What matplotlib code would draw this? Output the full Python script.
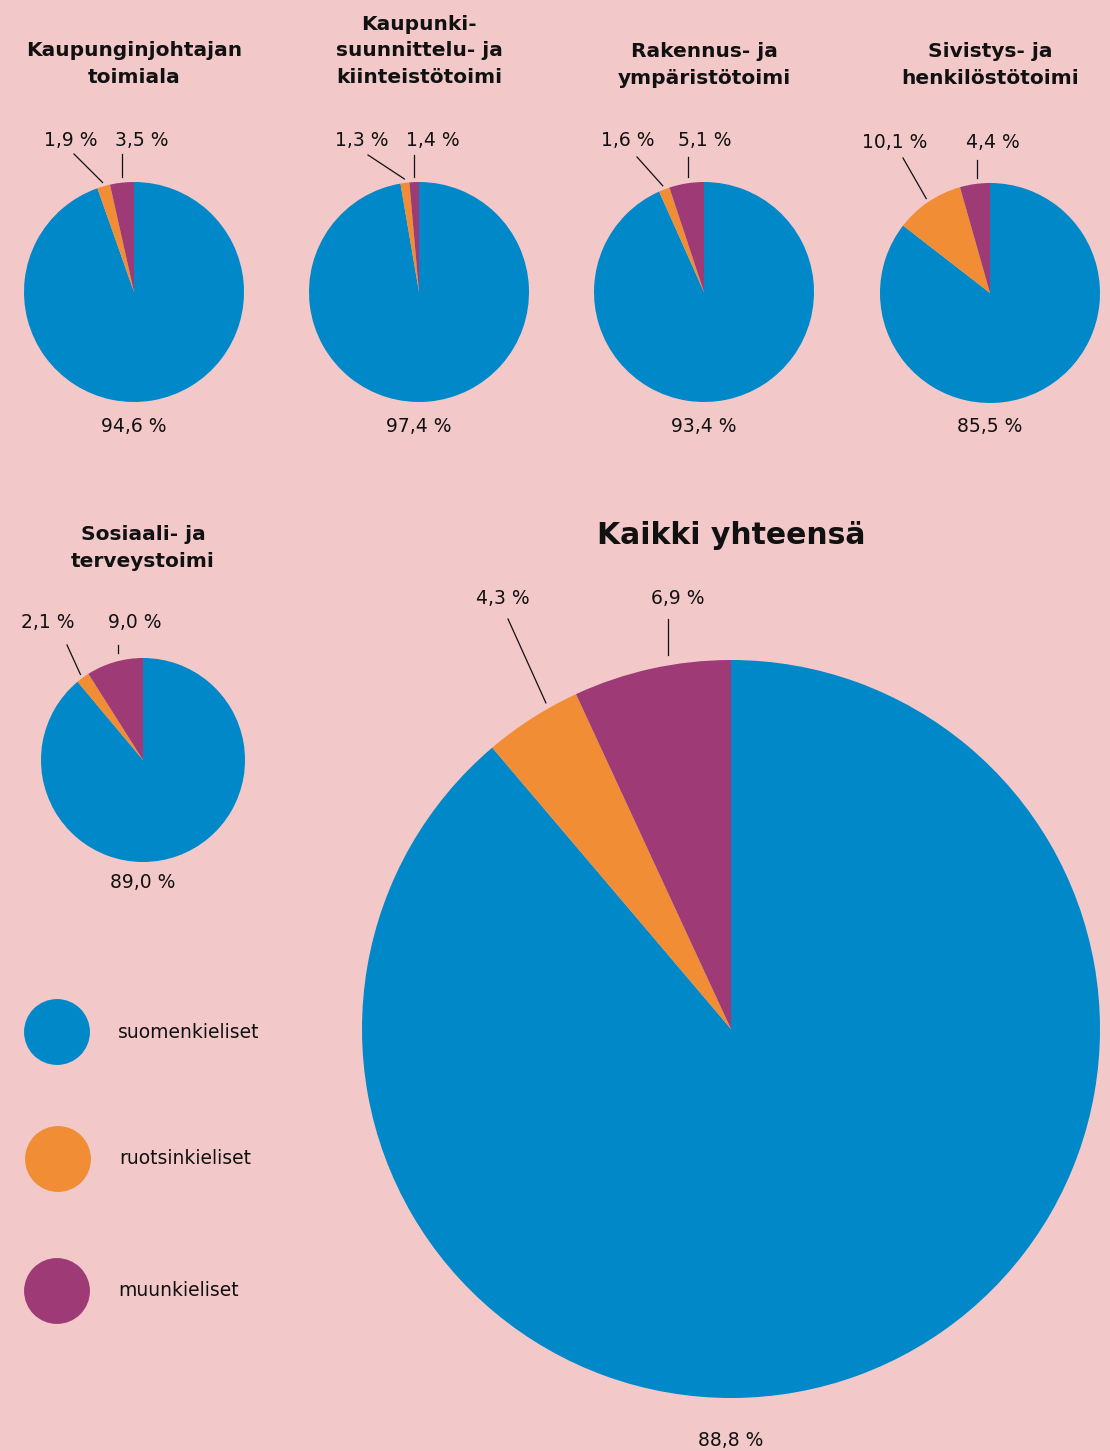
import numpy as np
import matplotlib
matplotlib.use("Agg")
from matplotlib import pyplot as plt

# data
groups = ["Kaupunginjohtajan\ntoimiala",
          "Kaupunki-\nsuunnittelu- ja\nkiinteistötoimi",
          "Rakennus- ja\nympäristötoimi",
          "Sivistys- ja\nhenkilöstötoimi",
          "Sosiaali- ja\nterveystoimi",
          "Kaikki yhteensä"]
suomi = [94.6, 97.4, 93.4, 85.5, 89.0, 88.8]
ruotsi = [1.9, 1.3, 1.6, 10.1, 2.1, 4.3]
muut = [3.5, 1.4, 5.1, 4.4, 9.0, 6.9]
kielet = ["suomenkieliset", "ruotsinkieliset", "muunkieliset"]
colors = ["#0088c8", "#f08d35", "#9e3b77"]
bg = "#f2c8c9"

W, H = 1110, 1451
fig = plt.figure(figsize=(W / 100, H / 100), dpi=100, facecolor=bg)
ax = fig.add_axes([0, 0, 1, 1])
ax.set_facecolor(bg)

# layout (pixel coords, y from top)
centers = [(134, 292), (419, 292), (704, 292), (990, 293), (143, 760), (731, 1029)]
radii = [110, 110, 110, 110, 102, 369]
title_y = [64, 51, 65, 65, 548, 536]
pct_y = [426, 426, 426, 427, 883, 1440]
lab_r = [(71, 141), (362, 141), (628, 141), (895, 143), (48, 623), (503, 598)]
lab_m = [(142, 141), (433, 141), (705, 141), (993, 143), (135, 623), (678, 598)]
end_r = [(74, 154), (368, 155), (637, 157), (903, 158), (67, 645), (508, 619)]
end_m = [(122, 154), (414, 155), (688, 157), (977, 160), (118, 645), (668, 619)]

def Y(y):
    return H - y

font = "DejaVu Sans"
ink = "#111111"
for i in range(len(groups)):
    vals = [suomi[i], ruotsi[i], muut[i]]
    cx, cy = centers[i]
    r = radii[i]
    big = i == 5
    ax.pie(vals, colors=colors, startangle=90, counterclock=False,
           center=(cx, Y(cy)), radius=r, frame=True,
           wedgeprops=dict(linewidth=0))
    # leader lines from slice mid-angles
    mid_r = 90 + (muut[i] + ruotsi[i] / 2) / 100 * 360 - (3 if big else 0)
    mid_m = 90 + (muut[i] / 2) / 100 * 360
    for k, (mid, end) in enumerate([(mid_r, end_r[i]), (mid_m, end_m[i])]):
        a = np.deg2rad(mid)
        rr = r + (4 if i < 5 else 6)
        sx, sy = cx + rr * np.cos(a), Y(cy) + rr * np.sin(a)
        if k == 1:
            sx = end[0]
            sy = Y(cy) + r + 5
        ax.plot([sx, end[0]], [sy, Y(end[1])], color=ink, lw=0.9)
    fs = 13.5
    ax.text(lab_r[i][0], Y(lab_r[i][1]), f"{ruotsi[i]:.1f} %".replace(".", ","),
            ha="center", va="center", fontsize=fs, family=font, color=ink)
    ax.text(lab_m[i][0], Y(lab_m[i][1]), f"{muut[i]:.1f} %".replace(".", ","),
            ha="center", va="center", fontsize=fs, family=font, color=ink)
    ax.text(cx, Y(pct_y[i]), f"{suomi[i]:.1f} %".replace(".", ","),
            ha="center", va="center", fontsize=fs, family=font, color=ink)
    ax.text(cx, Y(title_y[i]), groups[i], ha="center", va="center",
            fontsize=21.5 if big else 14.5, fontweight="bold", family=font,
            color=ink, linespacing=1.5)

# legend
leg_x = [57, 58, 57]
leg_y = [1032, 1159, 1291]
ax.scatter(leg_x, [Y(v) for v in leg_y], s=2250, c=colors, linewidths=0)
for k, name in enumerate(kielet):
    ax.text(leg_x[k] + 61, Y(leg_y[k]), name, ha="left", va="center",
            fontsize=13.5, family=font, color=ink)

ax.set_xlim(0, W)
ax.set_ylim(0, H)
ax.set_aspect("equal")
ax.axis("off")
fig.savefig("out.png", dpi=100, facecolor=bg)
